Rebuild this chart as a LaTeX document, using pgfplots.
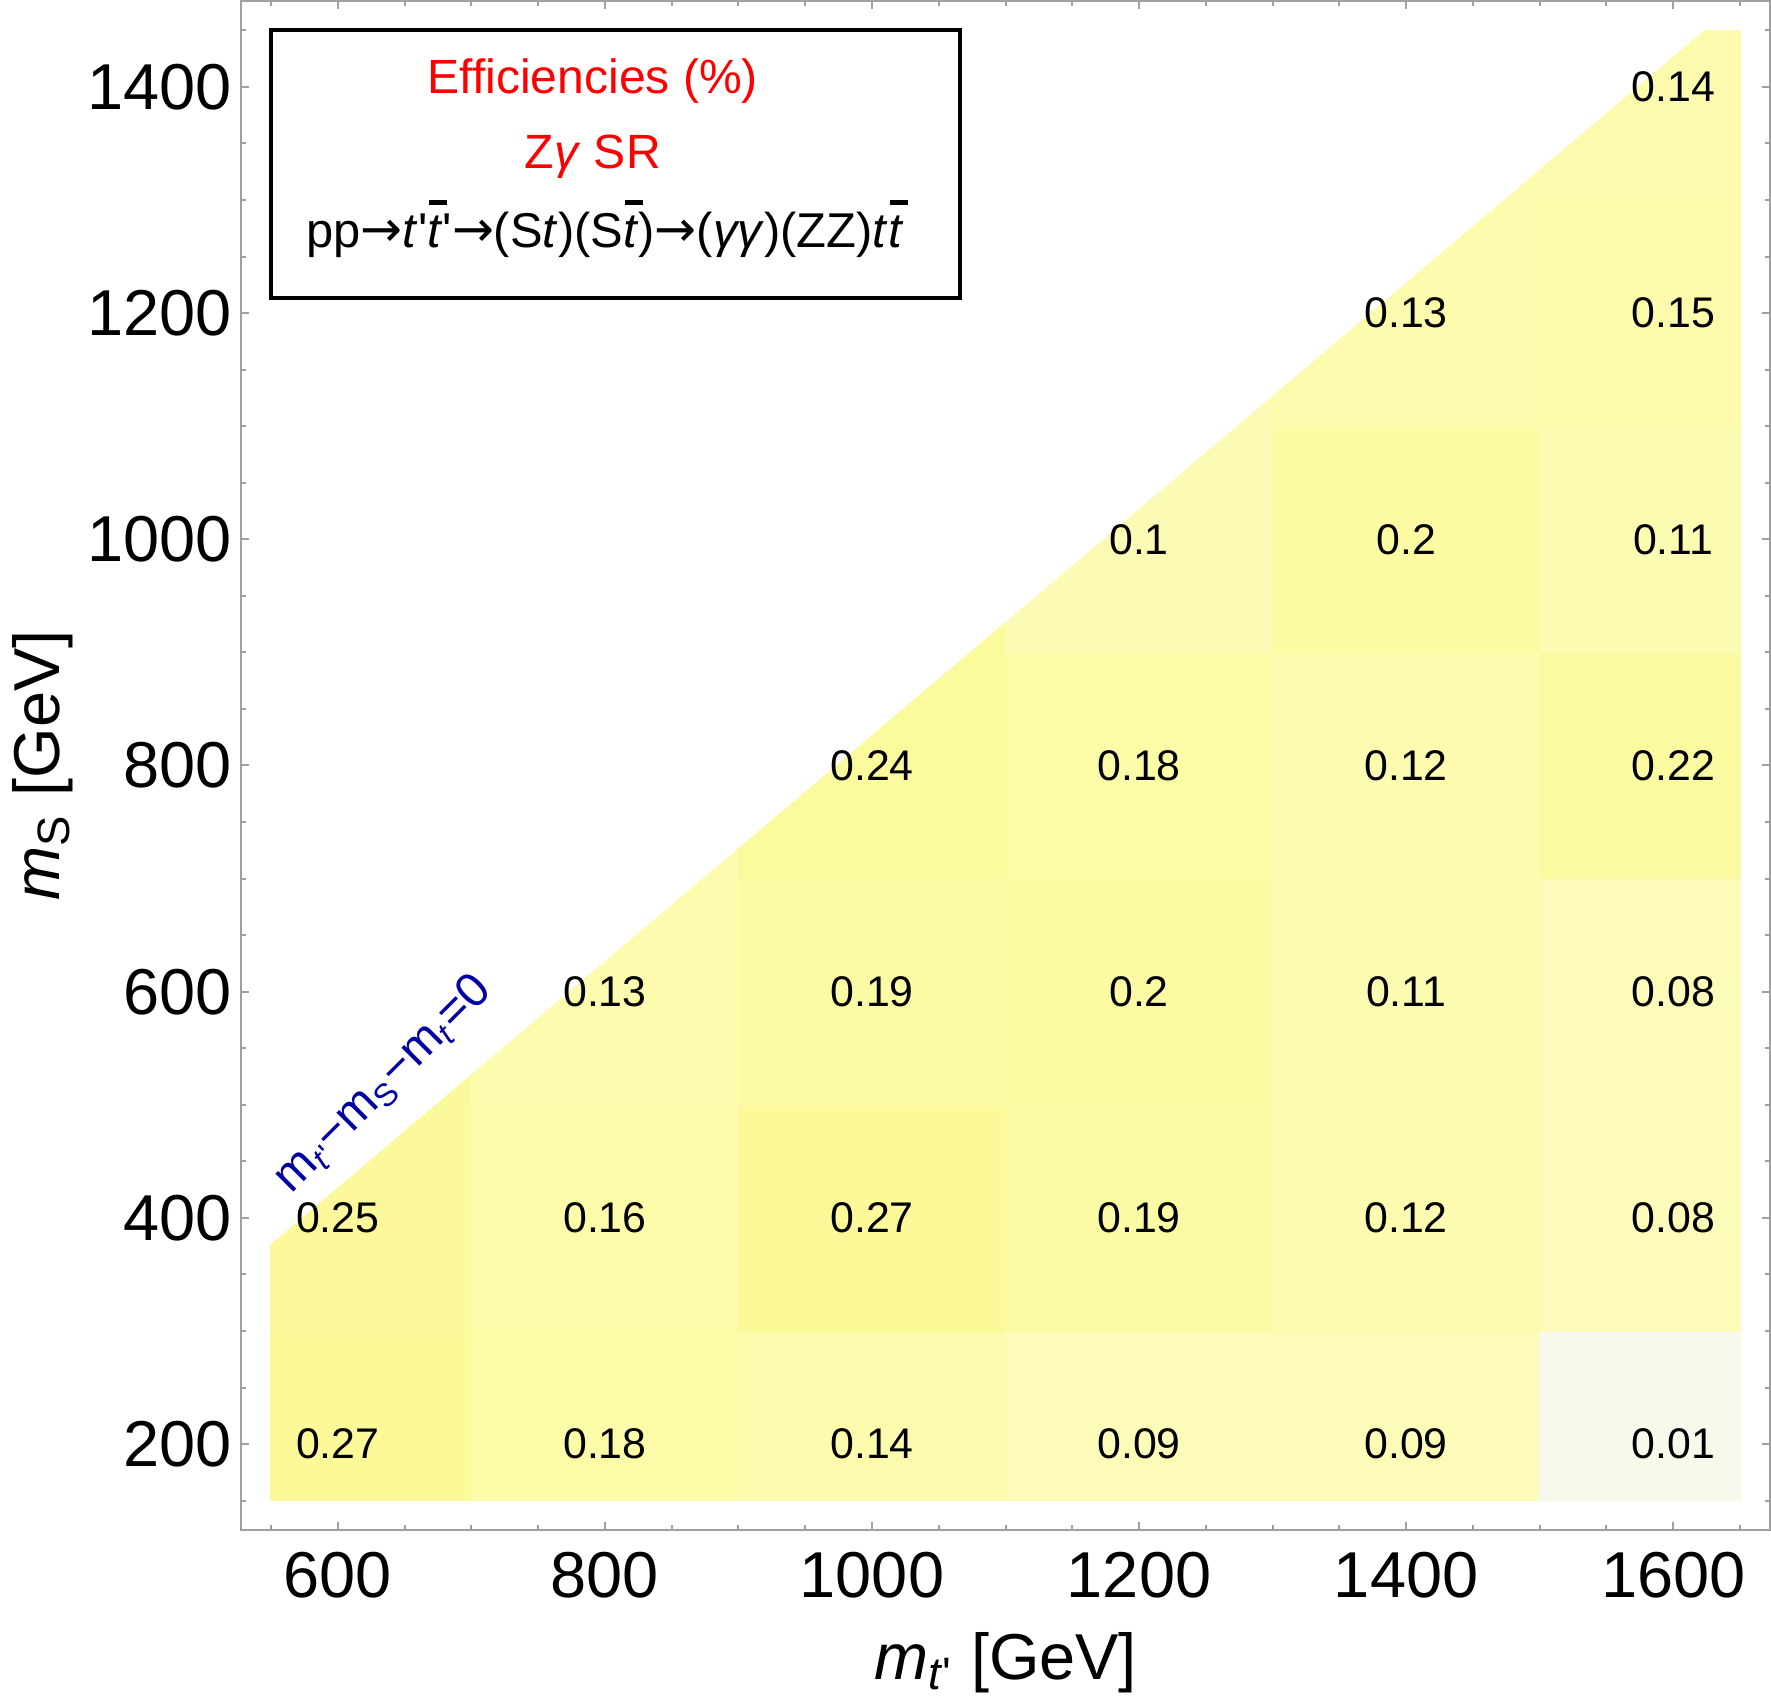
\documentclass[border=0pt]{standalone}
\usepackage{fontspec}
\setmainfont{Liberation Sans}
\newfontfamily\arrowfont{DejaVu Sans}
\usepackage{pgfplots}
\usepgfplotslibrary{patchplots}
\pgfplotsset{compat=1.18}
\definecolor{framegray}{RGB}{160,160,160}
\definecolor{lblblue}{RGB}{0,0,165}
\newcommand{\tb}{\leavevmode\rlap{\hspace{0.04em}\raisebox{0.87em}{\rule{0.36em}{0.1em}}}\textit{t}}
\newcommand{\ar}{{\arrowfont\fontsize{12.5}{14}\selectfont\raisebox{0.02em}{→}}}
\begin{document}
\begin{tikzpicture}
\begin{axis}[
  scale only axis, width=381.7pt, height=381.7pt,
  xmin=527.5, xmax=1672.5, ymin=124, ymax=1476,
  xtick={600,800,...,1600}, ytick={200,400,...,1400},
  minor xtick={550,600,...,1650}, minor ytick={150,200,...,1450},
  tick align=inside, xtick pos=both, ytick pos=both,
  xticklabel pos=bottom, yticklabel pos=left,
  major tick length=2.1pt, minor tick length=1.2pt,
  axis line style={framegray, line width=0.5pt},
  tick style={framegray, line width=0.5pt},
  /pgf/number format/1000 sep={},
  /pgf/number format/assume math mode=true,
  ticklabel style={font=\fontsize{16.2}{19}\selectfont, text=black},
  xticklabel style={anchor=base, inner sep=0pt, yshift=-16.75pt},
  yticklabel style={anchor=east, inner sep=0pt, xshift=-2.2pt},
  xlabel={\textit{m}\textsubscript{\textit{t}\textquotesingle} [GeV]},
  ylabel={\textit{m}\textsubscript{S} [GeV]},
  every axis x label/.style={at={(axis description cs:0.5,-0.0977)}, anchor=base, inner sep=1.2pt, font=\fontsize{16.2}{19}\selectfont},
  every axis y label/.style={at={(axis description cs:-0.119,0.5)}, rotate=90, anchor=base, inner sep=3pt, font=\fontsize{16.2}{19}\selectfont},
  colormap={yel}{rgb255(1)=(249,249,235) rgb255(8)=(252,251,186) rgb255(12)=(252,251,176) rgb255(18)=(252,251,167) rgb255(27)=(251,249,152)},
  point meta min=0.01, point meta max=0.27,
]
\addplot[patch, patch type=rectangle, shader=flat, draw=none, point meta=explicit] table[x=x, y=y, meta=c] {
x y c
550 150 0.27
700 150 0.27
700 300 0.27
550 300 0.27
550 300 0.25
700 300 0.25
700 550 0.25
550 550 0.25
700 150 0.18
900 150 0.18
900 300 0.18
700 300 0.18
700 300 0.16
900 300 0.16
900 500 0.16
700 500 0.16
700 500 0.13
900 500 0.13
900 750 0.13
700 750 0.13
900 150 0.14
1100 150 0.14
1100 300 0.14
900 300 0.14
900 300 0.27
1100 300 0.27
1100 500 0.27
900 500 0.27
900 500 0.19
1100 500 0.19
1100 700 0.19
900 700 0.19
900 700 0.24
1100 700 0.24
1100 950 0.24
900 950 0.24
1100 150 0.09
1300 150 0.09
1300 300 0.09
1100 300 0.09
1100 300 0.19
1300 300 0.19
1300 500 0.19
1100 500 0.19
1100 500 0.20
1300 500 0.20
1300 700 0.20
1100 700 0.20
1100 700 0.18
1300 700 0.18
1300 900 0.18
1100 900 0.18
1100 900 0.10
1300 900 0.10
1300 1150 0.10
1100 1150 0.10
1300 150 0.09
1500 150 0.09
1500 300 0.09
1300 300 0.09
1300 300 0.12
1500 300 0.12
1500 500 0.12
1300 500 0.12
1300 500 0.11
1500 500 0.11
1500 700 0.11
1300 700 0.11
1300 700 0.12
1500 700 0.12
1500 900 0.12
1300 900 0.12
1300 900 0.20
1500 900 0.20
1500 1100 0.20
1300 1100 0.20
1300 1100 0.13
1500 1100 0.13
1500 1350 0.13
1300 1350 0.13
1500 150 0.01
1650 150 0.01
1650 300 0.01
1500 300 0.01
1500 300 0.08
1650 300 0.08
1650 500 0.08
1500 500 0.08
1500 500 0.08
1650 500 0.08
1650 700 0.08
1500 700 0.08
1500 700 0.22
1650 700 0.22
1650 900 0.22
1500 900 0.22
1500 900 0.11
1650 900 0.11
1650 1100 0.11
1500 1100 0.11
1500 1100 0.15
1650 1100 0.15
1650 1300 0.15
1500 1300 0.15
1500 1300 0.14
1650 1300 0.14
1650 1450 0.14
1500 1450 0.14
};
% region above m_t' - m_S - m_t = 0 left blank
\addplot[fill=white, draw=none] coordinates {(549,376) (1625,1452) (549,1452)} -- cycle;
% cell values
\addplot[draw=none, mark=none, nodes near coords, point meta=explicit symbolic,
  nodes near coords style={anchor=center, inner sep=0pt, text=black, font=\fontsize{10.7}{12}\selectfont}]
  table[x=x, y=y, meta=lab] {
x y lab
600 200 0.27
600 400 0.25
800 200 0.18
800 400 0.16
800 600 0.13
1000 200 0.14
1000 400 0.27
1000 600 0.19
1000 800 0.24
1200 200 0.09
1200 400 0.19
1200 600 0.2
1200 800 0.18
1200 1000 0.1
1400 200 0.09
1400 400 0.12
1400 600 0.11
1400 800 0.12
1400 1000 0.2
1400 1200 0.13
1600 200 0.01
1600 400 0.08
1600 600 0.08
1600 800 0.22
1600 1000 0.11
1600 1200 0.15
1600 1400 0.14
};
\draw[black, line width=1pt] (axis cs:550,1213) rectangle (axis cs:1066,1450);
\node[anchor=base, text=red, font=\fontsize{12}{14}\selectfont] at (axis cs:791,1394) {Efficiencies (\%)};
\node[anchor=base, text=red, font=\fontsize{12}{14}\selectfont] at (axis cs:791,1328) {Z\textit{γ} SR};
\node[anchor=base, text=black, font=\fontsize{12.2}{14}\selectfont, inner sep=0pt] at (axis cs:800,1258)
  {pp\ar\textit{t}\textquotesingle\tb\textquotesingle\ar(S\textit{t})(S\tb)\ar(\textit{γγ})(ZZ)\textit{t}\tb};
\node[rotate=45, text=lblblue, font=\fontsize{12}{14}\selectfont, inner sep=0pt] at (axis cs:634,518)
  {m\textsubscript{\textit{t}\textquotesingle}−m\textsubscript{S}−m\textsubscript{\textit{t}}=0};
\end{axis}
\end{tikzpicture}
\end{document}
